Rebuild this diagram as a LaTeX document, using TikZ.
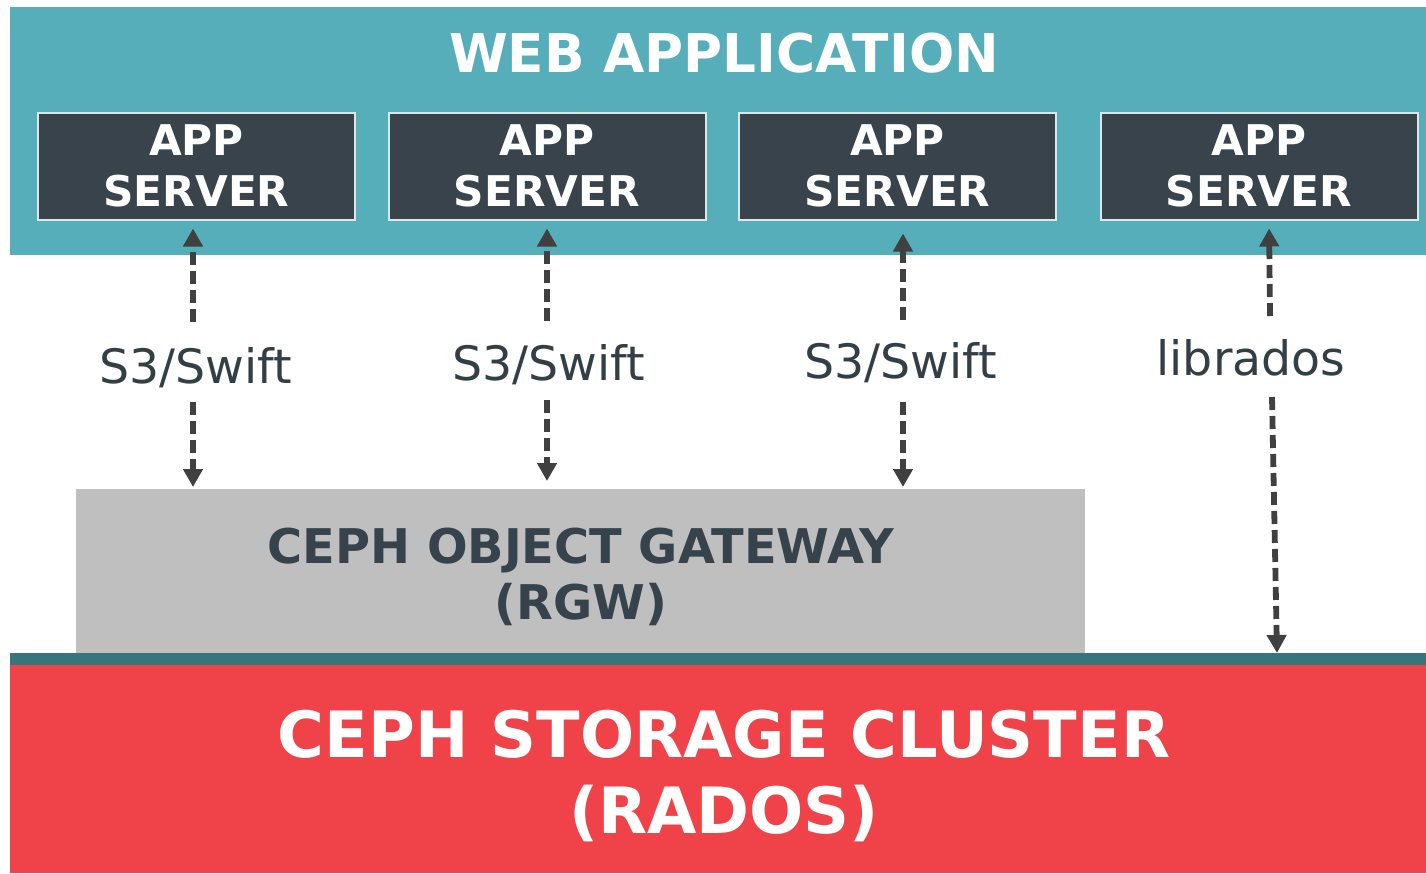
\documentclass[tikz,border=0pt]{standalone}
\usepackage{fontspec}
\setmainfont{DejaVu Sans}
\usetikzlibrary{arrows.meta}
\definecolor{cteal}{HTML}{56AEBA}
\definecolor{cbox}{HTML}{38434C}
\definecolor{cboxline}{HTML}{DDE6E8}
\definecolor{clabel}{HTML}{333F47}
\definecolor{carrow}{HTML}{404040}
\definecolor{cgray}{HTML}{BFBFBF}
\definecolor{cgwtext}{HTML}{36434C}
\definecolor{cstrip}{HTML}{35767D}
\definecolor{cred}{HTML}{F04349}
\tikzset{
  band/.style={rectangle, inner sep=0pt, outer sep=0pt, anchor=north west},
  appbox/.style={rectangle, fill=cbox, draw=cboxline, line width=2pt,
    minimum width=317pt, minimum height=107pt, inner sep=0pt, outer sep=0pt,
    text=white, align=center, font=\fontsize{42.3}{51}\selectfont\bfseries},
  proto/.style={anchor=base, text=clabel, font=\fontsize{47.4}{56}\selectfont, inner sep=0pt},
  arr/.style={draw=carrow, line width=5.8pt, dash pattern=on 13pt off 6pt,
    -{Triangle[width=19pt,length=18pt]}},
}
\begin{document}
\begin{tikzpicture}[x=1pt,y=-1pt]
\useasboundingbox (0,0) rectangle (1426,873);
% bands
\node[band, fill=cteal, minimum width=1416pt, minimum height=248pt] (web) at (10,7) {};
\node[anchor=base, inner sep=0pt, text=white, font=\fontsize{53.3}{60}\selectfont\bfseries] (webtitle) at (724,72) {WEB APPLICATION};
\node[band, fill=cgray, minimum width=1009pt, minimum height=164pt] (gw) at (76,489) {};
\node[align=center, inner sep=0pt, text=cgwtext, font=\fontsize{47.8}{56}\selectfont\bfseries] (gwtext) at (581,577) {CEPH OBJECT GATEWAY\\(RGW)};
\node[band, fill=cstrip, minimum width=1416pt, minimum height=12pt] (strip) at (10,653) {};
\node[band, fill=cred, minimum width=1416pt, minimum height=208pt] (rados) at (10,665) {};
\node[align=center, inner sep=0pt, text=white, font=\fontsize{63.8}{76}\selectfont\bfseries] (radostext) at (724,776.5) {CEPH STORAGE CLUSTER\\(RADOS)};
% app servers
\node[appbox] (s1) at (196.5,166) {APP\\SERVER};
\node[appbox] (s2) at (547,166) {APP\\SERVER};
\node[appbox] (s3) at (897.5,166) {APP\\SERVER};
\node[appbox] (s4) at (1259,166) {APP\\SERVER};
% protocol labels
\node[proto] (l1) at (196,383) {S3/Swift};
\node[proto] (l2) at (548.5,380) {S3/Swift};
\node[proto] (l3) at (900.5,378) {S3/Swift};
\node[proto] (l4) at (1251,375) {librados};
% arrow end points
\coordinate (a1u) at (193,322);
\coordinate (a1d) at (193,402);
\coordinate (a2u) at (547,321);
\coordinate (a2d) at (547,400);
\coordinate (a3u) at (903,320);
\coordinate (a3d) at (903,402);
\coordinate (a4u) at (1270,316);
\coordinate (a4d) at (1272,397);
\coordinate (x4u) at (1269,0);
\coordinate (x4d) at (1277,0);
% arrows
\draw[arr, shorten >=9pt] (a1u) -- (a1u |- s1.south);
\draw[arr, shorten >=2pt] (a1d) -- (a1d |- gw.north);
\draw[arr, shorten >=9pt] (a2u) -- (a2u |- s2.south);
\draw[arr, shorten >=8pt] (a2d) -- (a2d |- gw.north);
\draw[arr, shorten >=14pt] (a3u) -- (a3u |- s3.south);
\draw[arr, shorten >=2pt] (a3d) -- (a3d |- gw.north);
\draw[arr, shorten >=9pt] (a4u) -- (x4u |- s4.south);
\draw[arr] (a4d) -- (x4d |- strip.north);
\end{tikzpicture}
\end{document}
